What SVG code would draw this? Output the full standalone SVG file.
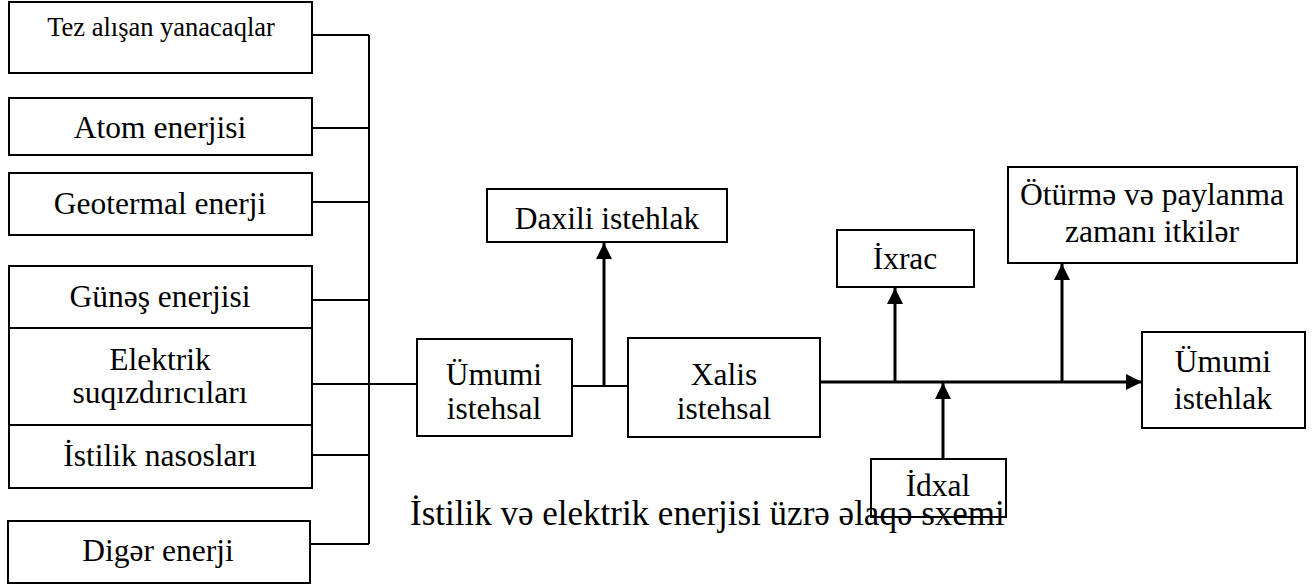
<svg xmlns="http://www.w3.org/2000/svg" width="1315" height="585" viewBox="0 0 1315 585">
<style>
.box{fill:#fff;stroke:#000;stroke-width:2}
.t{font-family:"Liberation Serif","Times New Roman",serif;font-size:31.5px;fill:#000;text-anchor:middle}
.thin{stroke:#000;stroke-width:2;fill:none}
.thick{stroke:#000;stroke-width:3;fill:none}
</style>
<defs>
<marker id="ah" viewBox="0 0 10 10" refX="10" refY="5" markerWidth="16" markerHeight="16" markerUnits="userSpaceOnUse" orient="auto">
<path d="M0,0 L10,5 L0,10 Z" fill="#000"/>
</marker>
</defs>
<rect width="1315" height="585" fill="#fff"/>
<g id="connectors">
<line class="thin" x1="369" y1="35" x2="369" y2="544"/>
<line class="thin" x1="312" y1="35" x2="369" y2="35"/>
<line class="thin" x1="312" y1="128" x2="369" y2="128"/>
<line class="thin" x1="312" y1="202" x2="369" y2="202"/>
<line class="thin" x1="312" y1="300" x2="369" y2="300"/>
<line class="thin" x1="312" y1="384" x2="417" y2="384"/>
<line class="thin" x1="312" y1="455" x2="369" y2="455"/>
<line class="thin" x1="310" y1="544" x2="369" y2="544"/>
<line class="thin" x1="572" y1="386" x2="628" y2="386"/>
<line class="thick" x1="604" y1="386" x2="604" y2="243" marker-end="url(#ah)"/>
<line class="thick" x1="820" y1="382" x2="1142" y2="382" marker-end="url(#ah)"/>
<line class="thick" x1="895" y1="382" x2="895" y2="288" marker-end="url(#ah)"/>
<line class="thick" x1="1062" y1="382" x2="1062" y2="264" marker-end="url(#ah)"/>
<line class="thick" x1="943" y1="459" x2="943" y2="383" marker-end="url(#ah)"/>
</g>
<g id="n-tez"><rect class="box" x="9" y="2" width="303" height="71"/><text class="t" x="161" y="36" style="font-size:26.5px">Tez alışan yanacaqlar</text></g>
<g id="n-atom"><rect class="box" x="9" y="98" width="303" height="57"/><text class="t" x="160" y="138">Atom enerjisi</text></g>
<g id="n-geo"><rect class="box" x="9" y="173" width="303" height="62"/><text class="t" x="160" y="214">Geotermal enerji</text></g>
<g id="n-gunes"><rect class="box" x="9" y="266" width="303" height="62"/><text class="t" x="160" y="307">Günəş enerjisi</text></g>
<g id="n-elektrik"><rect class="box" x="9" y="328" width="303" height="97"/><text class="t" x="160" y="370">Elektrik</text><text class="t" x="160" y="403">suqızdırıcıları</text></g>
<g id="n-istilik"><rect class="box" x="9" y="425" width="303" height="63"/><text class="t" x="160" y="466">İstilik nasosları</text></g>
<g id="n-diger"><rect class="box" x="8" y="521" width="302" height="62"/><text class="t" x="158" y="561">Digər enerji</text></g>
<g id="n-umumi-istehsal"><rect class="box" x="417" y="339" width="155" height="97"/><text class="t" x="494" y="385">Ümumi</text><text class="t" x="494" y="419">istehsal</text></g>
<g id="n-daxili"><rect class="box" x="487" y="189" width="240" height="53"/><text class="t" x="607" y="229">Daxili istehlak</text></g>
<g id="n-xalis"><rect class="box" x="628" y="338" width="192" height="99"/><text class="t" x="724" y="385">Xalis</text><text class="t" x="724" y="419">istehsal</text></g>
<g id="n-ixrac"><rect class="box" x="837" y="230" width="137" height="57"/><text class="t" x="905" y="269">İxrac</text></g>
<g id="n-oturme"><rect class="box" x="1008" y="167" width="289" height="96"/><text class="t" x="1152" y="205">Ötürmə və paylanma</text><text class="t" x="1152" y="242">zamanı itkilər</text></g>
<g id="n-umumi-istehlak"><rect class="box" x="1142" y="332" width="163" height="96"/><text class="t" x="1223" y="372">Ümumi</text><text class="t" x="1223" y="409">istehlak</text></g>
<g id="n-idxal"><rect class="box" x="871" y="459" width="135" height="58"/><text class="t" x="938" y="496">İdxal</text></g>
<text x="410" y="525" style="font-family:'Liberation Serif','Times New Roman',serif;font-size:35px;fill:#000">İstilik və elektrik enerjisi üzrə əlaqə sxemi</text>
</svg>
